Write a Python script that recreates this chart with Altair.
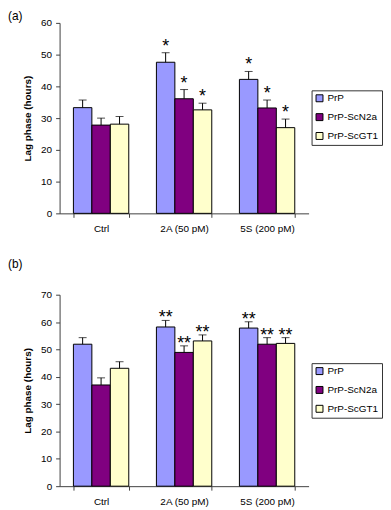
import altair as alt
import pandas as pd

categories = ["Ctrl", "2A (50 pM)", "5S (200 pM)"]
series = ["PrP", "PrP-ScN2a", "PrP-ScGT1"]
colors = ["#9999FF", "#800080", "#FFFFCC"]

# panel (a)
a_values = [[33.3, 27.8, 28.1], [47.6, 36.1, 32.6], [42.2, 33.2, 27.0]]
a_errors = [[2.4, 2.2, 2.4], [3.0, 2.9, 2.1], [2.5, 2.5, 2.7]]
a_stars = [["", "", ""], ["*", "*", "*"], ["*", "*", "*"]]

# panel (b)
b_values = [[51.9, 37.0, 43.1], [58.2, 48.9, 53.1], [57.8, 51.9, 52.2]]
b_errors = [[2.4, 2.6, 2.4], [2.4, 2.4, 2.2], [2.3, 2.4, 2.1]]
b_stars = [["", "", ""], ["**", "**", "**"], ["**", "**", "**"]]

FONT = "Liberation Sans"


def panel(vals, errs, stars, ymax, height, tag, star_dy, leg_x, leg_y, tag_y):
    rows = []
    for i, c in enumerate(categories):
        for j, s in enumerate(series):
            rows.append({"category": c, "series": s, "value": vals[i][j],
                         "top": vals[i][j] + errs[i][j], "star": stars[i][j]})
    df = pd.DataFrame(rows)
    base = alt.Chart(df).encode(
        x=alt.X("category:N", sort=categories,
                scale=alt.Scale(paddingInner=0.333, paddingOuter=0.1665),
                axis=alt.Axis(title=None, tickBand="extent", labelAngle=0,
                              labelPadding=6)),
        xOffset=alt.XOffset("series:N", sort=series,
                            scale=alt.Scale(paddingInner=0, paddingOuter=0)),
    )
    yscale = alt.Scale(domain=[0, ymax], nice=False)
    yaxis = alt.Axis(values=list(range(0, ymax + 1, 10)), labelOverlap=False,
                     title="Lag phase (hours)", titlePadding=8)
    bars = base.mark_bar(stroke="black", strokeWidth=1).encode(
        y=alt.Y("value:Q", scale=yscale, axis=yaxis),
        color=alt.Color("series:N", sort=series,
                        scale=alt.Scale(domain=series, range=colors),
                        legend=alt.Legend(orient="none", legendX=leg_x, legendY=leg_y,
                                          title=None, symbolType="square",
                                          symbolSize=49, symbolStrokeColor="black",
                                          symbolStrokeWidth=1, strokeColor="#333333",
                                          fillColor="white", padding=3, rowPadding=7,
                                          labelFontSize=10, labelFont=FONT,
                                          labelOffset=3)),
    )
    err = base.mark_rule(color="black", strokeWidth=1).encode(
        y=alt.Y("value:Q", scale=yscale, axis=yaxis), y2="top:Q")
    cap = base.mark_tick(color="black", size=8, thickness=1, orient="horizontal").encode(
        y=alt.Y("top:Q", scale=yscale, axis=yaxis))
    star = base.mark_text(fontSize=18, font=FONT, dy=star_dy, color="black").encode(
        y=alt.Y("top:Q", scale=yscale, axis=yaxis), text="star:N")
    label = alt.Chart(pd.DataFrame({"t": [tag]})).mark_text(
        align="left", baseline="top", fontSize=12, font=FONT, color="black"
    ).encode(x=alt.value(-52), y=alt.value(tag_y), text="t:N")
    return alt.layer(bars, err, cap, star, label).properties(width=251, height=height)


pa = panel(a_values, a_errors, a_stars, 60, 192, "(a)", -6, 254, 68, -12)
pb = panel(b_values, b_errors, b_stars, 70, 193, "(b)", -2, 254, 69, -36)

chart = alt.vconcat(pa, pb, spacing=25).resolve_scale(
    color="independent", y="independent", x="independent", xOffset="independent"
).resolve_legend(color="independent").configure(
    padding=0,
    font=FONT,
).configure_view(stroke=None).configure_axis(
    grid=False, labelFont=FONT, titleFont=FONT, labelFontSize=10, titleFontSize=10,
    titleFontWeight="bold", labelColor="black", titleColor="black",
    domainColor="#404040", tickColor="#404040", tickSize=4, labelPadding=4,
)

chart.save("out.html", embed_options={"renderer": "svg", "actions": False})
